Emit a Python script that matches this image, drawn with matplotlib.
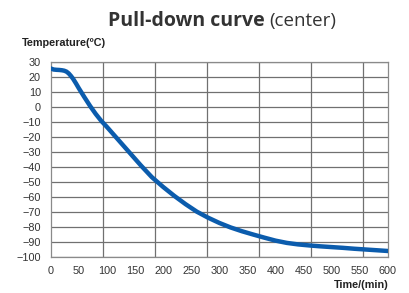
import matplotlib
matplotlib.use("Agg")
import matplotlib.pyplot as plt
import numpy as np

time_min = [0, 5, 10, 15, 20, 24, 28, 32, 36, 40, 45, 50, 60, 70, 80, 90, 100, 120, 140, 160, 180,
            200, 220, 240, 260, 280, 300, 320, 340, 360, 380, 400, 420, 440, 460, 480,
            500, 520, 540, 560, 580, 600]
temperature = [25.5, 24.8, 24.6, 24.5, 24.3, 24.0, 23.4, 22.2, 20.5, 18.5, 15.5, 12.3, 6.3, 0.5,
               -4.8, -9.5, -13.5, -22.0, -30.5, -39.0, -47.0, -53.5, -59.5, -65.0, -70.0,
               -74.0, -77.5, -80.5, -83.0, -85.2, -87.3, -89.3, -90.8, -91.8, -92.5, -93.1,
               -93.6, -94.1, -94.7, -95.2, -95.7, -96.2]

x_ticks = list(range(0, 601, 50))
y_ticks = list(range(-100, 31, 10))

fig = plt.figure(figsize=(4.10, 2.93), dpi=100)
ax = fig.add_axes([0.1237, 0.1239, 0.8226, 0.6655])

ax.plot(time_min, temperature, color="#0b5cad", lw=3.2, solid_capstyle="round",
        solid_joinstyle="round", zorder=3)

ax.set_xlim(0, 600)
ax.set_ylim(-100, 30)
ax.set_xticks(x_ticks)
ax.set_yticks(y_ticks)
ax.set_yticklabels([str(v).replace("-", "\u2212") for v in y_ticks])

# vertical grid lines (image spacing differs from label spacing)
vgrid = [92.5 * i for i in range(1, 7)]
for xv in vgrid:
    ax.axvline(xv, color="#707070", lw=0.9, zorder=1)
for yv in y_ticks:
    ax.axhline(yv, color="#707070", lw=0.9, zorder=1)

for s in ax.spines.values():
    s.set_color("#8a8a8a")
    s.set_linewidth(0.9)

ax.tick_params(length=0, labelsize=7.8, labelcolor="#333333", pad=7)
for lab in ax.get_xticklabels() + ax.get_yticklabels():
    lab.set_fontfamily("Liberation Sans")

t1 = fig.text(108 / 410, 0.927, "Pull-down curve", fontsize=14, fontweight="bold",
              color="#333333", ha="left", va="center", family="Open Sans")
fig.canvas.draw()
bb = t1.get_window_extent(fig.canvas.get_renderer())
fig.text((bb.x1 + 5) / 410, 0.927, "(center)", fontsize=13.5, color="#333333",
         ha="left", va="center", family="Open Sans")
fig.text(0.053, 0.853, "Temperature(\u00baC)", fontsize=7.8, fontweight="bold",
         color="#222222", ha="left", va="center", family="Liberation Sans")
fig.text(0.948, 0.027, "Time/(min)", fontsize=7.8, fontweight="bold",
         color="#222222", ha="right", va="center", family="Liberation Sans")

fig.savefig("out.png", dpi=100)
